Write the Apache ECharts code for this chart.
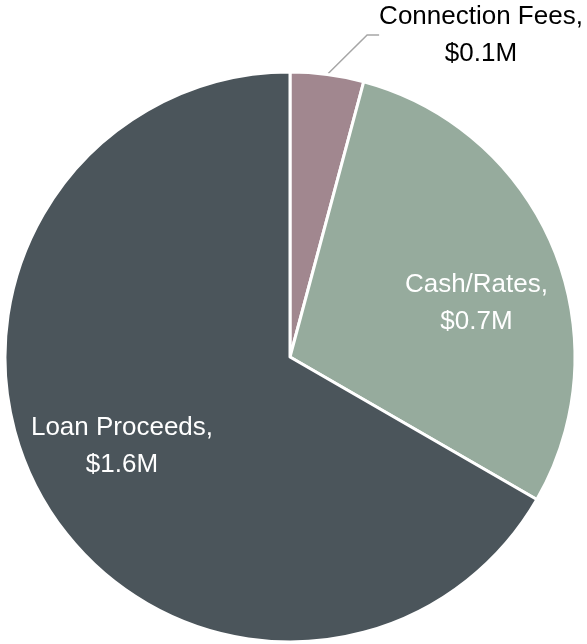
<!DOCTYPE html>
<html>
<head>
<meta charset="utf-8">
<style>
  html, body { margin: 0; padding: 0; background: #ffffff; }
  #chart { width: 587px; height: 644px; }
</style>
<script src="https://cdn.jsdelivr.net/npm/echarts@6/dist/echarts.min.js"></script>
</head>
<body>
<div id="chart"></div>
<script>
// Funding sources, in millions of dollars
const categories = ['Connection Fees', 'Cash/Rates', 'Loan Proceeds'];
const values = [0.1, 0.7, 1.6];
const colors = ['#a1878f', '#96ab9d', '#4b555b'];

const FONT = '"Liberation Sans Narrow", "Arial Narrow", "Liberation Sans", Arial, sans-serif';

const chart = echarts.init(document.getElementById('chart'), null, { renderer: 'canvas' });

const data = categories.map((name, i) => ({
  name,
  value: values[i],
  itemStyle: { color: colors[i] },
  label: i === 0
    ? { position: 'outside', color: '#000000' }
    : { position: 'inside', color: '#ffffff' },
  labelLine: { show: i === 0 }
}));

// label placement per slice
const labelPlacement = [
  { x: 481, y: 35, align: 'center', verticalAlign: 'middle' },
  { dx: 52, dy: 2 },
  { dx: -42, dy: 17 }
];

chart.setOption({
  animation: false,
  series: [{
    type: 'pie',
    center: [290, 357],
    radius: 285,
    startAngle: 90,
    clockwise: true,
    data,
    itemStyle: { borderColor: '#ffffff', borderWidth: 3 },
    label: {
      formatter: (p) => p.name + ',\n$' + p.value.toFixed(1) + 'M',
      fontFamily: FONT,
      fontSize: 26,
      lineHeight: 37,
      align: 'center'
    },
    labelLine: {
      lineStyle: { color: '#a6a6a6', width: 1.5 },
      length: 20,
      length2: 12
    },
    labelLayout: (params) => labelPlacement[params.dataIndex]
  }]
});
</script>
</body>
</html>
